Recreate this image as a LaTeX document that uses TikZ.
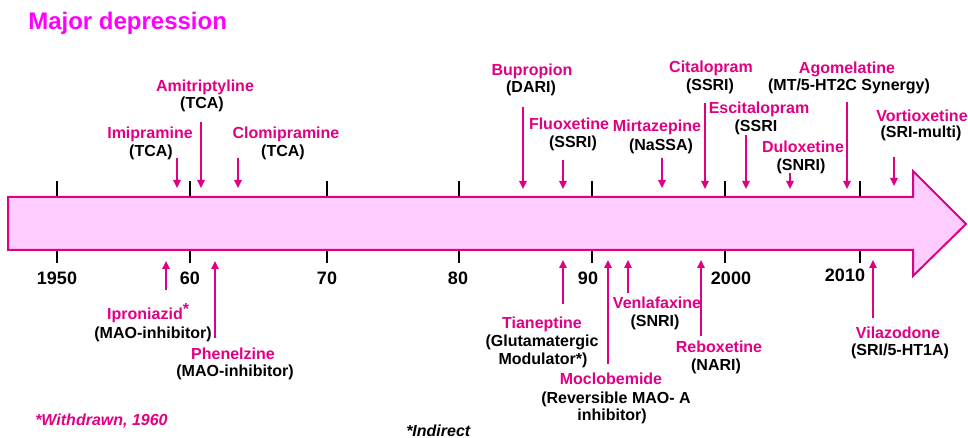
\documentclass[tikz,border=0pt]{standalone}
\usepackage{fontspec}
\setmainfont{Liberation Sans}
\usetikzlibrary{arrows.meta}
\definecolor{pinkD}{RGB}{224,0,132}
\definecolor{pinkT}{RGB}{255,0,255}
\definecolor{pinkF}{RGB}{255,204,255}
\tikzset{
  nm/.style={font=\bfseries\fontsize{12}{14}\selectfont, text=pinkD, inner sep=0pt, anchor=base},
  cl/.style={font=\bfseries\fontsize{12}{14}\selectfont, text=black, inner sep=0pt, anchor=base},
  yr/.style={font=\bfseries\fontsize{13.5}{16}\selectfont, text=black, inner sep=0pt, anchor=base},
  drugarrow/.style={draw=pinkD, line width=1.5pt, -{Triangle[length=6pt,width=5.5pt]}},
  tickmark/.style={draw=black, line width=1.5pt},
  timeline/.style={draw=pinkD, fill=pinkF, line width=1.5pt, line join=miter}
}
\begin{document}
\begin{tikzpicture}[x=0.75pt,y=-0.75pt]
\useasboundingbox (0,0) rectangle (968,438);
% title
\node[font=\bfseries\fontsize{18}{20}\selectfont, text=pinkT, inner sep=0pt, anchor=base west] (title) at (28,30) {Major depression};
% ticks (drawn first so body covers their ends)
\foreach \tx/\nm in {57/a,190/b,327/c,459/d,592/e,725/f,860/g}{
  \coordinate (tu\nm) at (\tx,181);
  \coordinate (td\nm) at (\tx,263);
  \draw[tickmark] (tu\nm) -- (td\nm);
}
% timeline arrow
\draw[timeline] (8,197) coordinate (tl1) -- (913,197) -- (913,171) -- (966,224) coordinate (tip) -- (913,276) -- (913,250) -- (8,250) -- cycle;
% year labels
\node[yr] (y1950) at (57,284.5) {1950};
\node[yr] (y60) at (190,284.5) {60};
\node[yr] (y70) at (327,284.5) {70};
\node[yr] (y80) at (458,284.5) {80};
\node[yr] (y90) at (588,285) {90};
\node[yr] (y2000) at (731,284.5) {2000};
\node[yr] (y2010) at (845,281.5) {2010};

% ---- top drugs ----
\node[nm] (imi) at (150,139) {Imipramine};
\node[cl] (imic) at (151,157) {(TCA)};
\coordinate (imiS) at (177,158); \coordinate (imiE) at (177,188);
\draw[drugarrow] (imiS) -- (imiE);

\node[nm] (ami) at (205,92) {Amitriptyline};
\node[cl] (amic) at (202,109) {(TCA)};
\coordinate (amiS) at (201,122); \coordinate (amiE) at (201,188);
\draw[drugarrow] (amiS) -- (amiE);

\node[nm] (clo) at (286,139) {Clomipramine};
\node[cl] (cloc) at (283,157) {(TCA)};
\coordinate (cloS) at (238,158); \coordinate (cloE) at (238,188);
\draw[drugarrow] (cloS) -- (cloE);

\node[nm] (bup) at (532,76) {Bupropion};
\node[cl] (bupc) at (531,93) {(DARI)};
\coordinate (bupS) at (523,107); \coordinate (bupE) at (523,189);
\draw[drugarrow] (bupS) -- (bupE);

\node[nm] (flu) at (569,130) {Fluoxetine};
\node[cl] (fluc) at (573,148) {(SSRI)};
\coordinate (fluS) at (563,160); \coordinate (fluE) at (563,189);
\draw[drugarrow] (fluS) -- (fluE);

\node[nm] (mir) at (657,132) {Mirtazepine};
\node[cl] (mirc) at (661,151) {(NaSSA)};
\coordinate (mirS) at (662,158); \coordinate (mirE) at (662,188);
\draw[drugarrow] (mirS) -- (mirE);

\node[nm] (cit) at (711,73) {Citalopram};
\node[cl] (citc) at (710,91) {(SSRI)};
\coordinate (citS) at (705,103); \coordinate (citE) at (705,189);
\draw[drugarrow] (citS) -- (citE);

\node[nm] (esc) at (759,114) {Escitalopram};
\node[cl] (escc) at (756,132) {(SSRI};
\coordinate (escS) at (746,135); \coordinate (escE) at (746,189);
\draw[drugarrow] (escS) -- (escE);

\node[nm] (dul) at (803,153) {Duloxetine};
\node[cl] (dulc) at (801,171) {(SNRI)};
\coordinate (dulS) at (790,173); \coordinate (dulE) at (790,189);
\draw[drugarrow] (dulS) -- (dulE);

\node[nm] (ago) at (847,74) {Agomelatine};
\node[cl] (agoc) at (849,91) {(MT/5-HT2C Synergy)};
\coordinate (agoS) at (847,102); \coordinate (agoE) at (847,189);
\draw[drugarrow] (agoS) -- (agoE);

\node[nm] (vor) at (922,122) {Vortioxetine};
\node[cl] (vorc) at (921,138) {(SRI-multi)};
\coordinate (vorS) at (894,157); \coordinate (vorE) at (894,186);
\draw[drugarrow] (vorS) -- (vorE);

% ---- bottom drugs ----
\node[nm] (ipr) at (145,320) {Iproniazid\rlap{\raisebox{4pt}{*}}};
\node[cl] (iprc) at (153,339) {(MAO-inhibitor)};
\coordinate (iprS) at (166,290); \coordinate (iprE) at (166,261);
\draw[drugarrow] (iprS) -- (iprE);

\node[nm] (phe) at (233,359) {Phenelzine};
\node[cl] (phec) at (235,377) {(MAO-inhibitor)};
\coordinate (pheS) at (215,338); \coordinate (pheE) at (215,261);
\draw[drugarrow] (pheS) -- (pheE);

\node[nm] (tia) at (542,329) {Tianeptine};
\node[cl] (tiac1) at (542,347) {(Glutamatergic};
\node[cl] (tiac2) at (543,364) {Modulator*)};
\coordinate (tiaS) at (563,304); \coordinate (tiaE) at (563,260);
\draw[drugarrow] (tiaS) -- (tiaE);

\node[nm] (moc) at (611,385) {Moclobemide};
\node[cl] (mocc1) at (616,403) {(Reversible MAO- A};
\node[cl] (mocc2) at (612,421) {inhibitor)};
\coordinate (mocS) at (608,364); \coordinate (mocE) at (608,260);
\draw[drugarrow] (mocS) -- (mocE);

\node[nm] (ven) at (657,309) {Venlafaxine};
\node[cl] (venc) at (655,327) {(SNRI)};
\coordinate (venS) at (628,293); \coordinate (venE) at (628,260);
\draw[drugarrow] (venS) -- (venE);

\node[nm] (reb) at (719,353) {Reboxetine};
\node[cl] (rebc) at (716,371) {(NARI)};
\coordinate (rebS) at (701,336); \coordinate (rebE) at (701,260);
\draw[drugarrow] (rebS) -- (rebE);

\node[nm] (vil) at (898,339) {Vilazodone};
\node[cl] (vilc) at (900,356) {(SRI/5-HT1A)};
\coordinate (vilS) at (873,318); \coordinate (vilE) at (873,260);
\draw[drugarrow] (vilS) -- (vilE);

% footnotes
\node[font=\bfseries\itshape\fontsize{12}{14}\selectfont, text=pinkD, inner sep=0pt, anchor=base west] (withdrawn) at (35,426) {*Withdrawn, 1960};
\node[font=\bfseries\itshape\fontsize{12}{14}\selectfont, text=black, inner sep=0pt, anchor=base west] (indirect) at (406,436) {*Indirect};
\end{tikzpicture}
\end{document}
